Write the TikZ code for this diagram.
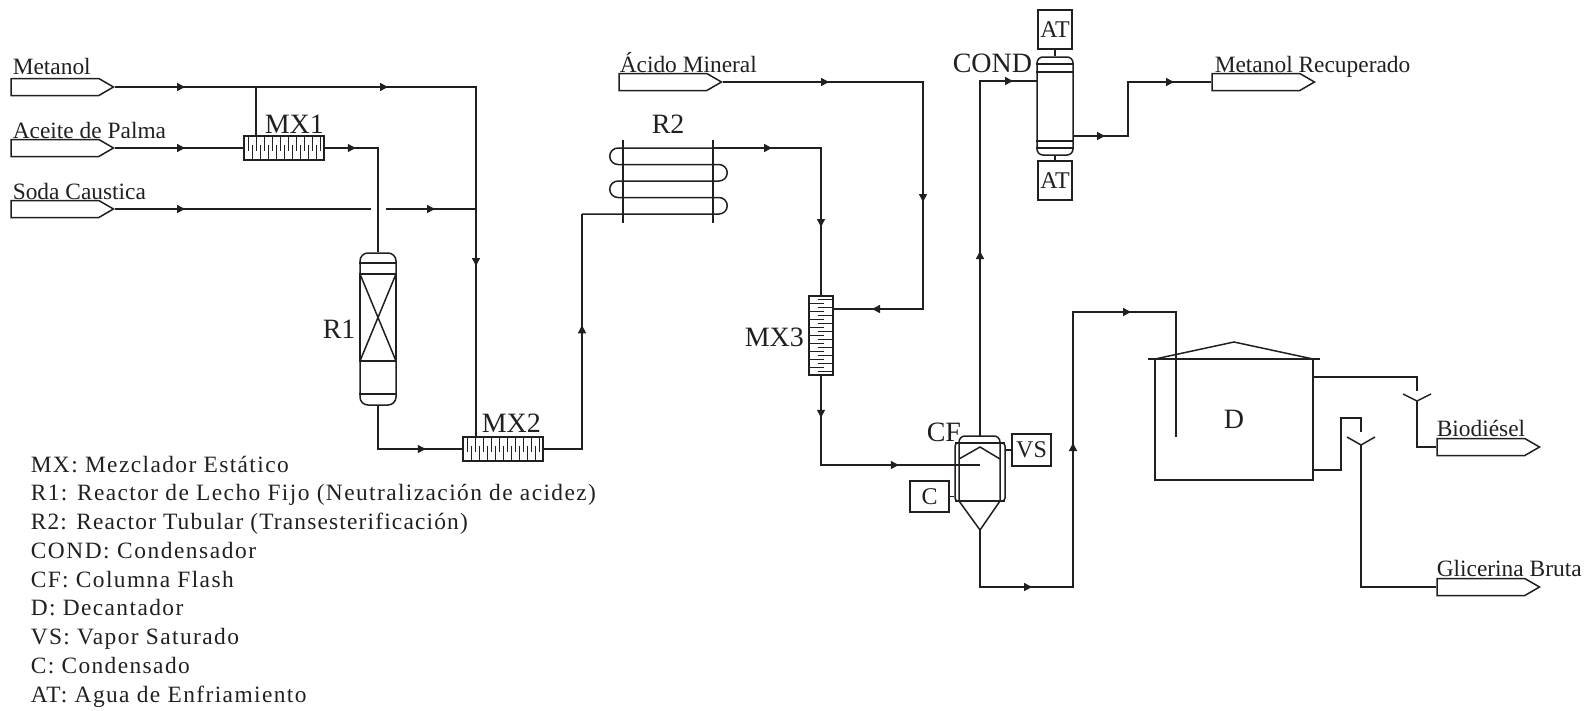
\documentclass[tikz,border=0pt]{standalone}
\usepackage{fontspec}
\setmainfont{Liberation Serif}
\usetikzlibrary{shapes, arrows.meta, positioning, decorations.markings}
\definecolor{linea}{HTML}{231F20}

\begin{document}
\begin{tikzpicture}[x=1pt, y=-1pt, line width=1.5pt, color=linea, text=linea,
            stream/.style={draw, signal, signal to=east, signal pointer angle=60, minimum width=102.5pt, minimum height=17pt, inner sep=0pt, anchor=east},
            flow/.style={postaction={decorate, decoration={markings, mark=at position #1pt with {\arrow{Triangle[length=8pt,width=8pt]}}}}},
            label/.style={inner sep=0pt, anchor=base west, font=\fontsize{28}{28}\selectfont},
            streamlabel/.style={inner sep=0pt, anchor=base west, font=\fontsize{23.4}{24}\selectfont},
            utility/.style={draw, rectangle, inner sep=0pt, font=\fontsize{24}{24}\selectfont},
            column/.style={draw, rectangle, rounded corners=8pt, minimum width=36pt, inner sep=0pt},
            mixerh/.style={draw, rectangle, minimum width=80pt, minimum height=24pt, inner sep=0pt, path picture={
                \foreach \i in {1,3,...,19} \draw[line width=1pt] (path picture bounding box.north west) ++(4*\i pt,0) -- ++(0,15);
                \foreach \i in {2,4,...,18} \draw[line width=1pt] (path picture bounding box.south west) ++(4*\i pt,0) -- ++(0,-15);
            }},
            mixerv/.style={draw, rectangle, minimum width=24pt, minimum height=79pt, inner sep=0pt, path picture={
                \foreach \i in {1,3,...,19} \draw[line width=1pt] (path picture bounding box.north east) ++(0,3.95*\i) -- ++(-15,0);
                \foreach \i in {2,4,...,18} \draw[line width=1pt] (path picture bounding box.north west) ++(0,3.95*\i) -- ++(15,0);
            }}]
            \useasboundingbox (0,0) rectangle (1593,710);

            % corrientes
            \node[stream] (metanol) at (115,87) {};
            \node[stream] (palma) at (115,148) {};
            \node[stream] (soda) at (115,209) {};
            \node[stream] (acido) at (723,82) {};
            \node[stream] (recuperado) at (1316,82) {};
            \node[stream] (biodiesel) at (1541,447) {};
            \node[stream] (glicerina) at (1541,587) {};
            \node[streamlabel] (tmetanol) at (12,74) {Metanol};
            \node[streamlabel] (tpalma) at (12,138) {Aceite de Palma};
            \node[streamlabel] (tsoda) at (12,199) {Soda Caustica};
            \node[streamlabel] (tacido) at (619,72) {Ácido Mineral};
            \node[streamlabel] (trecuperado) at (1214,72) {Metanol Recuperado};
            \node[streamlabel] (tbiodiesel) at (1436,436) {Biodiésel};
            \node[streamlabel] (tglicerina) at (1436,576) {Glicerina Bruta};

            % equipos
            \node[mixerh] (mx1) at (284,148) {};
            \node[mixerh] (mx2) at (503,449) {};
            \node[mixerv] (mx3) at (821,335.5) {};
            \node[column, minimum height=152pt] (r1) at (378,329) {};
            \node[column, rounded corners=6pt, minimum height=98pt] (cond) at (1055,106) {};
            \node[draw, rectangle, rounded corners=3pt, minimum width=50pt, minimum height=58pt, inner sep=0pt] (cf) at (980,472) {};
            \node[utility, minimum width=34pt, minimum height=39pt] (at1) at (1055,29.5) {AT};
            \node[utility, minimum width=34pt, minimum height=39pt] (at2) at (1055,180.5) {AT};
            \node[utility, minimum width=39pt, minimum height=32pt] (vs) at (1031.5,450) {VS};
            \node[utility, minimum width=39pt, minimum height=31pt] (c) at (929.5,496.5) {C};
            \node[draw, rectangle, minimum width=158pt, minimum height=121pt, inner sep=0pt, font=\fontsize{28}{28}\selectfont] (d) at (1234,419.5) {D};

            \node[label] (tmx1) at (264,133) {MX1};
            \node[label] (tmx2) at (481,432) {MX2};
            \node[label] (tmx3) at (744,346) {MX3};
            \node[label] (tr1) at (322,338) {R1};
            \node[label] (tr2) at (651,133) {R2};
            \node[label] (tcond) at (952,72) {COND};
            \node[label] (tcf) at (926,441) {CF};

            % interior de R1 y COND
            \draw (r1.west |- 0,263) -- (r1.east |- 0,263);
            \draw (r1.west |- 0,394) -- (r1.east |- 0,394);
            \draw (360,274) rectangle (396,361);
            \draw (360,274) -- (396,361);
            \draw (396,274) -- (360,361);
            \draw (cond.west |- 0,64) -- (cond.east |- 0,64);
            \draw (cond.west |- 0,72) -- (cond.east |- 0,72);
            \draw (cond.west |- 0,141) -- (cond.east |- 0,141);
            \draw (cond.west |- 0,148) -- (cond.east |- 0,148);

            % interior de CF
            \draw[rounded corners=6pt] (959,501) |- (1000,436) -- (1000,501);
            \draw (955,443) -- (1005,443);
            \draw (959,459) -- (980,447) -- (1000,459);
            \draw (955,501) -- (1005,501);
            \draw (959,501) -- (980,530) -- (1000,501);

            % techo de D
            \draw (1155,359) -- (1234,342) -- (1313,359);
            \draw (1148,359) -- (1320,359);

            % puntos de paso
            \coordinate (brmet) at (256,87);
            \coordinate (met) at (476,87);
            \coordinate (sodaa) at (371,209);
            \coordinate (sodab) at (386,209);
            \coordinate (sodac) at (476,209);
            \coordinate (mx2top) at (476,437);
            \coordinate (r2ent) at (582,214);
            \coordinate (r2sal) at (713,148);
            \coordinate (acidoc) at (923,309);
            \coordinate (mx3ent) at (833,309);
            \coordinate (cfent) at (980,465);
            \coordinate (cftop) at (980,436);
            \coordinate (cfbot) at (980,530);
            \coordinate (condent) at (1037,81);
            \coordinate (condsal) at (1073,136);
            \coordinate (condb) at (1128,136);
            \coordinate (dec1) at (1073,587);
            \coordinate (dec2) at (1176,312);
            \coordinate (dent) at (1176,437);
            \coordinate (dsal1) at (1313,377);
            \coordinate (dsal2) at (1313,470);
            \coordinate (biody) at (1417,401);
            \coordinate (glicy) at (1361,445);

            % conexiones
            \draw[flow=70, flow=273, flow=540] (metanol.east) -- (met) -- (mx2top);
            \draw (brmet) -- (brmet |- mx1.north);
            \draw[flow=70] (palma.east) -- (mx1.west);
            \draw[flow=31] (mx1.east) -| (r1.north);
            \draw[flow=70] (soda.east) -- (sodaa);
            \draw[flow=49] (sodab) -- (sodac);
            \draw[flow=91] (r1.south) |- (mx2.west);
            \draw[flow=162] (mx2.east) -| (r2ent);
            \draw (r2ent) -- (719,214) arc[start angle=-90, end angle=90, radius=8.25pt] -- (618,197.5) arc[start angle=270, end angle=90, radius=8.25pt] -- (719,181) arc[start angle=-90, end angle=90, radius=8.25pt] -- (618,164.5) arc[start angle=270, end angle=90, radius=8.25pt] -- (r2sal);
            \draw (623,140) -- (623,223);
            \draw (713,140) -- (713,223);
            \draw[flow=59, flow=187] (r2sal) -| (mx3.north);
            \draw[flow=106, flow=320, flow=478] (acido.east) -| (acidoc) -- (mx3ent);
            \draw[flow=42, flow=167] (mx3.south) |- (cfent);
            \draw[flow=185, flow=388] (cftop) |- (condent);
            \draw[flow=32, flow=155] (condsal) -- (condb) |- (recuperado.west);
            \draw (at1.south) -- (cond.north);
            \draw (cond.south) -- (at2.north);
            \draw (vs.west) -- (vs.west -| cf.east);
            \draw (c.east) -- (c.east -| cf.west);
            \draw[flow=109, flow=294, flow=483] (cfbot) |- (dec1) |- (dec2) -- (dent);
            \draw (dsal1) -| (1417,391);
            \draw (1403,394) -- (biody) -- (1431,394);
            \draw (biody) |- (biodiesel.west);
            \draw (dsal2) -- (1341,470) |- (1361,418) -- (1361,432);
            \draw (1347,437) -- (glicy) -- (1375,437);
            \draw (glicy) |- (glicerina.west);

            % leyenda
            \node[inner sep=0pt, anchor=north west, align=left, font=\fontsize{23.4}{28.75}\selectfont\addfontfeature{LetterSpace=6}] (leyenda) at (30,455) {MX: Mezclador Estático\\R1: Reactor de Lecho Fijo (Neutralización de acidez)\\{\addfontfeature{LetterSpace=5}R2: Reactor Tubular (Transesterificación)}\\{\addfontfeature{LetterSpace=6.6}COND: Condensador}\\CF: Columna Flash\\D: Decantador\\VS: Vapor Saturado\\C: Condensado\\AT: Agua de Enfriamiento};
        \end{tikzpicture}
\end{document}
